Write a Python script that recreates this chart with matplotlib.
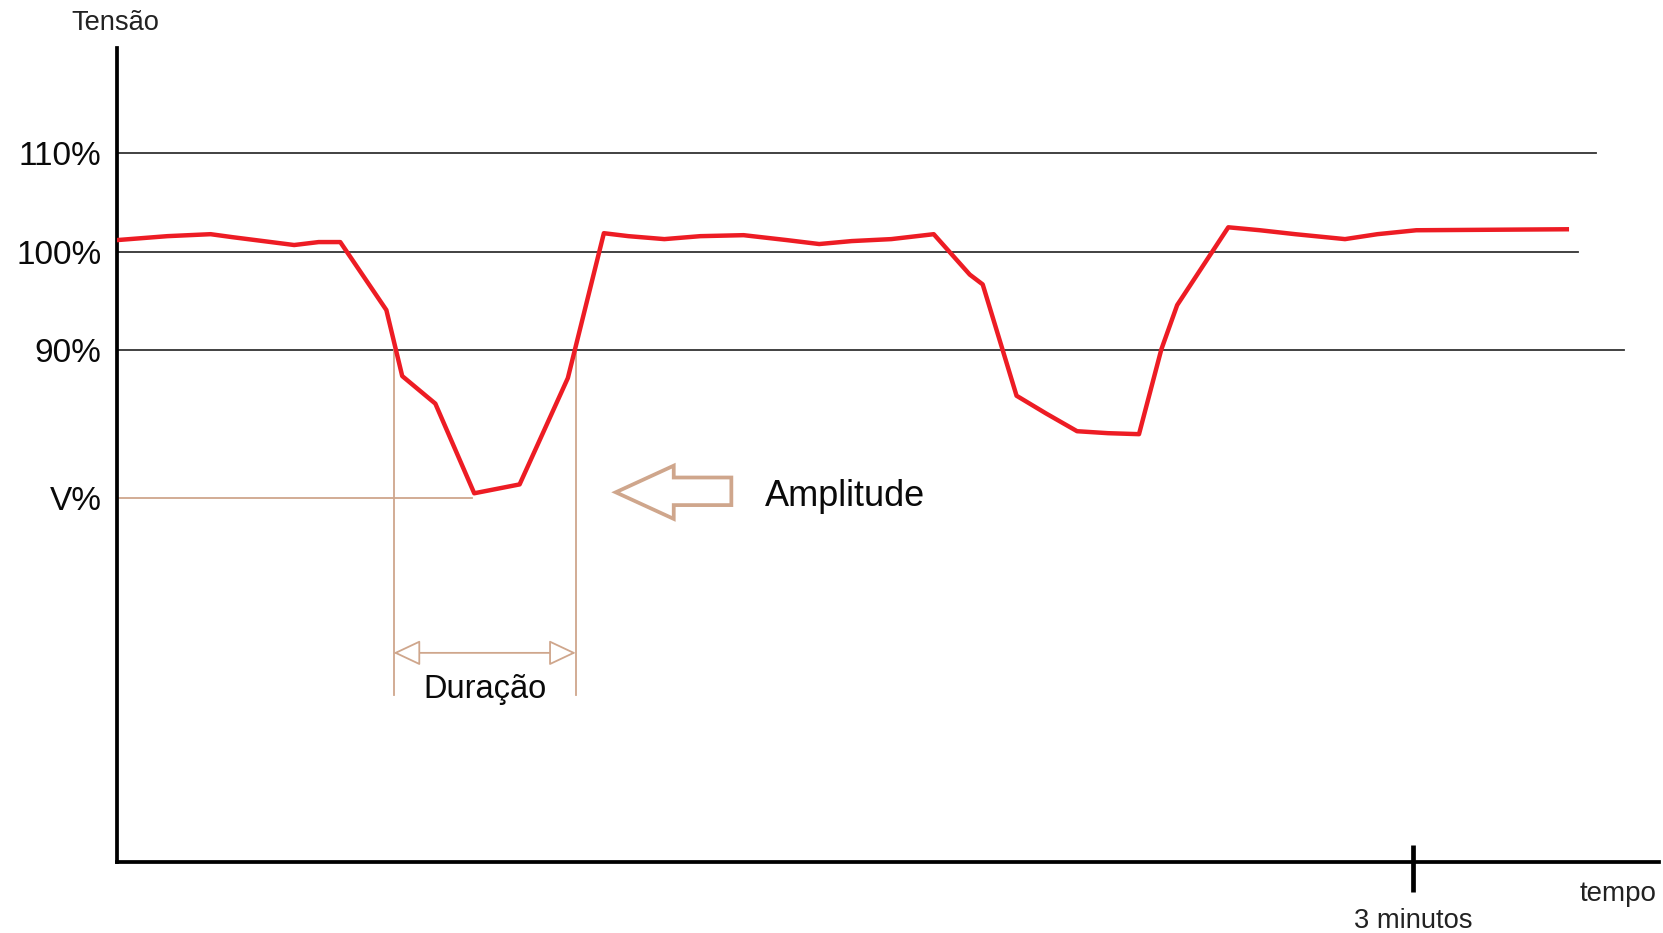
import matplotlib
matplotlib.use("Agg")
import matplotlib.pyplot as plt
from matplotlib.patches import Polygon

plt.rcParams['font.family'] = ['Liberation Sans', 'DejaVu Sans']

# ---- data (time in seconds, voltage in % of nominal) ----
tempo = [0, 7, 13, 16, 24.6, 28, 31, 37.4, 39.6, 44.2, 49.6, 55.9, 62.6, 67.6,
         71, 76, 81, 87, 93, 97.5, 102, 107.5, 113.4, 118.4, 120.2, 124.9, 129,
         133.3, 137.6, 141.9, 145, 147.2, 154.3, 158.7, 163.6, 170.5, 175, 180.4, 201.3]
tensao = [101.2, 101.6, 101.8, 101.5, 100.7, 101.0, 101.0, 94.1, 87.4, 84.6, 75.5, 76.4, 87.2, 101.9,
          101.6, 101.3, 101.6, 101.7, 101.2, 100.8, 101.1, 101.3, 101.8, 97.7, 96.7, 85.4, 83.6,
          81.8, 81.6, 81.5, 90.1, 94.6, 102.5, 102.2, 101.8, 101.3, 101.8, 102.2, 102.3]

ref_levels = [110, 100, 90]
ref_ends = [205.4, 202.9, 209.2]
ytick_vals = [110, 100, 90, 75]
ytick_labels = ["110%", "100%", "90%", "V%"]
v_level = 75
v_line_end = 49.3
dur_start, dur_end = 38.4, 63.7
dur_bottom = 55.0
dur_arrow_y = 59.3
xtick_vals = [180]
xtick_labels = ["3 minutos"]

RED = "#ED1C24"
TAN = "#CFA68C"
W, H = 1663, 933

fig = plt.figure(figsize=(W / 100, H / 100), dpi=100)
ax = fig.add_axes([117 / W, (H - 862) / H, (1659 - 117) / W, (862 - 48) / H])
ax.set_xlim(0, 214.1)
ax.set_ylim(38.07, 120.7)

for s in ["top", "right"]:
    ax.spines[s].set_visible(False)
for s in ["left", "bottom"]:
    ax.spines[s].set_linewidth(2.7)
    ax.spines[s].set_color("black")

# reference lines
for lvl, end in zip(ref_levels, ref_ends):
    ax.plot([0, end], [lvl, lvl], color="#333333", lw=1.3, zorder=1)

# V% line
ax.plot([0, v_line_end], [v_level, v_level], color=TAN, lw=1.3, zorder=1)

# duration lines
for xd in (dur_start, dur_end):
    ax.plot([xd, xd], [90, dur_bottom], color=TAN, lw=1.3, zorder=1)
ax.annotate("", xy=(dur_end, dur_arrow_y), xytext=(dur_start, dur_arrow_y),
            arrowprops=dict(arrowstyle="<|-|>,head_length=0.85,head_width=0.4",
                            mutation_scale=20, fc="white", ec=TAN, lw=1.3,
                            shrinkA=0, shrinkB=0))
ax.text((dur_start + dur_end) / 2, 55.6, "Duração", fontsize=23.5,
        ha="center", va="center", color="#0a0a0a")

# block arrow for amplitude
arrow_pts = [(69.25, 75.6), (77.3, 78.3), (77.3, 77.1), (85.3, 77.1),
             (85.3, 74.3), (77.3, 74.3), (77.3, 72.9)]
ax.add_patch(Polygon(arrow_pts, closed=True, fill=False, ec=TAN, lw=2.7,
                     joinstyle="miter"))
ax.text(90, 75.2, "Amplitude", fontsize=26, ha="left", va="center", color="#0a0a0a")

# the voltage curve
ax.plot(tempo, tensao, color=RED, lw=3.2, solid_joinstyle="round", zorder=3)

# ticks
ax.set_yticks(ytick_vals, ytick_labels)
ax.tick_params(axis="y", length=0, pad=11, labelsize=24, labelcolor="#0a0a0a")
ax.set_xticks(xtick_vals, xtick_labels)
ax.tick_params(axis="x", length=0, pad=33, labelsize=19.7, labelcolor="#222222")
for xv in xtick_vals:
    ax.plot([xv, xv], [39.8, 35.0], color="black", lw=3.4, clip_on=False,
            solid_capstyle="butt")

ax.set_ylabel("Tensão", rotation=0, fontsize=19.6, color="#222222",
              ha="center", va="center")
ax.yaxis.set_label_coords(-0.0013, 1.0305)
ax.set_xlabel("tempo", fontsize=20, color="#222222", ha="center", va="center")
ax.xaxis.set_label_coords(0.9734, -0.039)

fig.savefig("out.png", dpi=100)
